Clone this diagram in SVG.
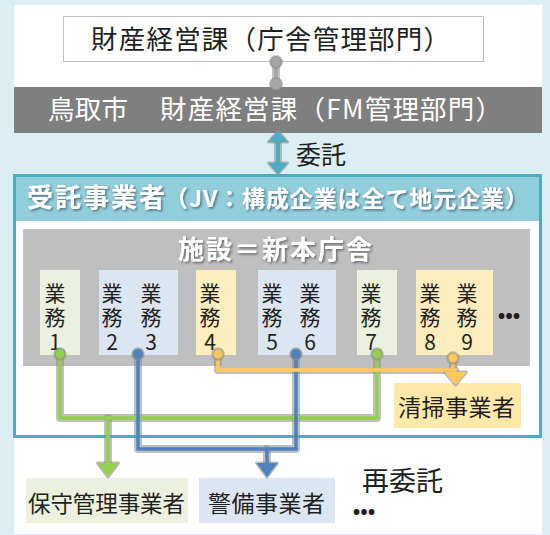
<svg xmlns="http://www.w3.org/2000/svg" width="550" height="535" viewBox="0 0 550 535">
<defs>
<style>
text{font-family:"Noto Sans CJK JP","Noto Sans",sans-serif;}
.dk{fill:#1f1f1f;}
.wt{fill:#ffffff;}
.task{font-size:21px;fill:#1f1f1f;text-anchor:middle;}
.halo{fill:none;stroke:#8c8c8c;stroke-opacity:0.55;stroke-width:8;stroke-linejoin:round;stroke-linecap:round;}
.g{stroke:#92d050;}
.b{stroke:#4f81bd;}
.o{stroke:#ffc85a;}
.ln{fill:none;stroke-width:3.5;stroke-linejoin:miter;}
.ah{stroke:#8c8c8c;stroke-opacity:0.6;stroke-width:3;stroke-linejoin:round;}
</style>
<filter id="sh" x="-5%" y="-20%" width="110%" height="140%">
<feDropShadow dx="1.5" dy="1.5" stdDeviation="1" flood-color="#000" flood-opacity="0.45"/>
</filter>
</defs>
<rect x="0" y="0" width="550" height="535" fill="#daeef3"/>
<rect x="14" y="5" width="528" height="82" fill="#ffffff"/>
<rect x="14" y="437" width="528" height="97" fill="#ffffff"/>

<g id="dept-top">
<rect x="63.5" y="16.5" width="420" height="45" fill="#ffffff" stroke="#bfbfbf" stroke-width="1"/>
<text x="91" y="49" class="dk" font-size="26.5" textLength="359" lengthAdjust="spacing">財産経営課（庁舎管理部門）</text>
</g>

<g id="dept-fm">
<rect x="14" y="87" width="528" height="46" fill="#7f7f7f"/>
<text x="48" y="119" class="wt" font-size="26.5" textLength="80" lengthAdjust="spacing">鳥取市</text>
<text x="160" y="119" class="wt" font-size="26.5" textLength="342" lengthAdjust="spacing">財産経営課（FM管理部門）</text>
</g>

<g id="jv">
<rect x="14" y="175" width="528" height="262" fill="#ffffff"/>
<rect x="14" y="175" width="528" height="46" fill="#92cddc"/>
<rect x="14.5" y="175.5" width="526" height="261" fill="none" stroke="#4bacc6" stroke-width="3"/>
<text x="27" y="207" class="wt" font-weight="bold" font-size="26" textLength="138" lengthAdjust="spacing" filter="url(#sh)">受託事業者</text>
<text x="165" y="207" class="wt" font-weight="bold" font-size="23" textLength="363" lengthAdjust="spacing" filter="url(#sh)">（JV：構成企業は全て地元企業）</text>
</g>

<g id="facility">
<rect x="23" y="229" width="507" height="137" fill="#bfbfbf"/>
<text x="178" y="259" class="wt" font-size="26" font-weight="bold" textLength="194" lengthAdjust="spacing" filter="url(#sh)">施設＝新本庁舎</text>
</g>

<g id="task1">
<rect x="40" y="270" width="40" height="85" fill="#ebf1de"/>
<text class="task"><tspan x="55" y="301">業</tspan><tspan x="55" y="325">務</tspan><tspan x="55" y="350">1</tspan></text>
</g>
<g id="task2-3">
<rect x="99" y="270" width="79" height="85" fill="#dce6f2"/>
<text class="task"><tspan x="112" y="301">業</tspan><tspan x="112" y="325">務</tspan><tspan x="112" y="350">2</tspan></text>
<text class="task"><tspan x="151" y="301">業</tspan><tspan x="151" y="325">務</tspan><tspan x="151" y="350">3</tspan></text>
</g>
<g id="task4">
<rect x="196" y="270" width="40" height="85" fill="#ffeebd"/>
<text class="task"><tspan x="210" y="301">業</tspan><tspan x="210" y="325">務</tspan><tspan x="210" y="350">4</tspan></text>
</g>
<g id="task5-6">
<rect x="258" y="270" width="78" height="85" fill="#dce6f2"/>
<text class="task"><tspan x="272" y="301">業</tspan><tspan x="272" y="325">務</tspan><tspan x="272" y="350">5</tspan></text>
<text class="task"><tspan x="310" y="301">業</tspan><tspan x="310" y="325">務</tspan><tspan x="310" y="350">6</tspan></text>
</g>
<g id="task7">
<rect x="357" y="270" width="40" height="85" fill="#ebf1de"/>
<text class="task"><tspan x="371" y="301">業</tspan><tspan x="371" y="325">務</tspan><tspan x="371" y="350">7</tspan></text>
</g>
<g id="task8-9">
<rect x="416" y="270" width="77" height="85" fill="#ffeebd"/>
<text class="task"><tspan x="430" y="301">業</tspan><tspan x="430" y="325">務</tspan><tspan x="430" y="350">8</tspan></text>
<text class="task"><tspan x="467" y="301">業</tspan><tspan x="467" y="325">務</tspan><tspan x="467" y="350">9</tspan></text>
</g>
<g id="task-more">
<text x="509" y="322" class="dk" font-size="20" font-weight="bold" text-anchor="middle">•••</text>
</g>

<g id="cleaning">
<rect x="394" y="383" width="127" height="45" fill="#ffe8a8"/>
<text x="398" y="416" class="dk" font-size="23" textLength="117" lengthAdjust="spacing">清掃事業者</text>
</g>
<g id="maintenance">
<rect x="26" y="478" width="162" height="45" fill="#ebf1de"/>
<text x="28" y="512" class="dk" font-size="22.5" textLength="157" lengthAdjust="spacing">保守管理事業者</text>
</g>
<g id="security">
<rect x="199" y="478" width="136" height="45" fill="#dce6f2"/>
<text x="208" y="512" class="dk" font-size="23" textLength="117" lengthAdjust="spacing">警備事業者</text>
</g>
<g id="subcontract">
<text x="362" y="491" class="dk" font-size="27" textLength="81" lengthAdjust="spacing">再委託</text>
<text x="364" y="518" class="dk" font-size="20" font-weight="bold" text-anchor="middle">•••</text>
</g>

<g id="connectors">
<path d="M276,62 V84" class="halo"/>
<path d="M276,62 V84" fill="none" stroke="#a6a6a6" stroke-width="4"/>
<circle cx="276" cy="62" r="6" fill="#a6a6a6" stroke="#8c8c8c" stroke-opacity="0.5" stroke-width="2"/>
<circle cx="276" cy="84" r="6" fill="#a6a6a6" stroke="#8c8c8c" stroke-opacity="0.5" stroke-width="2"/>
<path d="M278,140 V165" class="halo"/>
<polygon points="278,131 287.5,142 268.5,142" fill="#4bacc6" class="ah"/>
<polygon points="278,174 287.5,163 268.5,163" fill="#4bacc6" class="ah"/>
<path d="M278,140 V165" fill="none" stroke="#4bacc6" stroke-width="4"/>
<polygon points="278,131 287.5,142 268.5,142" fill="#4bacc6"/>
<polygon points="278,174 287.5,163 268.5,163" fill="#4bacc6"/>
<text x="296" y="164" class="dk" font-size="25">委託</text>
<path d="M60,354 V418 H108 V463" class="halo"/>
<path d="M377,354 V418 H108" class="halo"/>
<path d="M138,354 V449 H267 V463" class="halo"/>
<path d="M296,354 V449 H267" class="halo"/>
<path d="M218,354 V370 H455 V373" class="halo"/>
<path d="M453,358 V370" class="halo"/>
<polygon points="97.5,463 118.5,463 108,477" class="ah" fill="none"/>
<polygon points="256.5,463 277.5,463 267,477" class="ah" fill="none"/>
<polygon points="444.5,372 466.5,372 455.5,385" class="ah" fill="none"/>
<path d="M60,354 V418 H108 V464" class="ln g"/>
<path d="M377,354 V418 H108" class="ln g"/>
<path d="M138,354 V449 H267 V464" class="ln b"/>
<path d="M296,354 V449 H267" class="ln b"/>
<path d="M218,354 V370 H455 V373" class="ln o"/>
<path d="M453,358 V370" class="ln o"/>
<polygon points="97.5,463 118.5,463 108,477" fill="#92d050"/>
<polygon points="256.5,463 277.5,463 267,477" fill="#4f81bd"/>
<polygon points="444.5,372 466.5,372 455.5,385" fill="#ffc85a"/>
<g stroke="#8c8c8c" stroke-opacity="0.55" stroke-width="2.5">
<circle cx="60" cy="354" r="5.5" fill="#92d050"/>
<circle cx="138" cy="354" r="5.5" fill="#4f81bd"/>
<circle cx="218" cy="354" r="5.5" fill="#ffc85a"/>
<circle cx="296" cy="354" r="5.5" fill="#4f81bd"/>
<circle cx="377" cy="354" r="5.5" fill="#92d050"/>
<circle cx="453" cy="358" r="5.5" fill="#ffc85a"/>
</g>
</g>
</svg>
